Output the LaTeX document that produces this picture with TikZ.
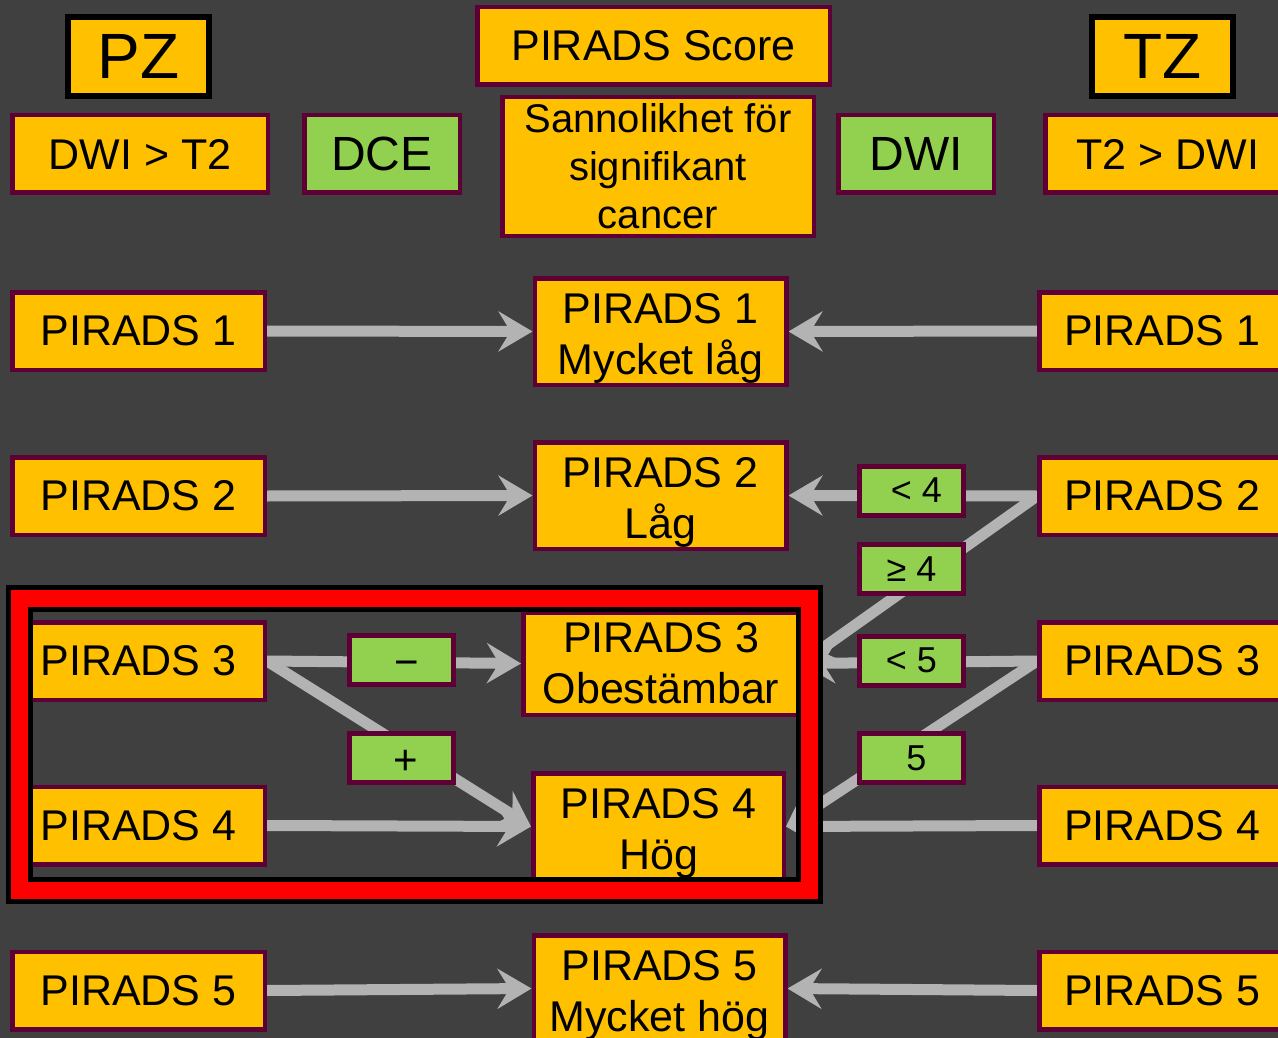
\documentclass[tikz,border=0pt]{standalone}
\usepackage{fontspec}
\setmainfont{Liberation Sans}
\usetikzlibrary{arrows.meta}
\definecolor{bgdark}{HTML}{404040}
\definecolor{boxorange}{HTML}{FFC000}
\definecolor{boxgreen}{HTML}{92D050}
\definecolor{rim}{HTML}{5E0036}
\definecolor{linkgray}{HTML}{B3B3B3}
\definecolor{framered}{HTML}{FF0000}
\pgfdeclarelayer{bg}
\pgfdeclarelayer{links}
\pgfdeclarelayer{front}
\pgfsetlayers{bg,links,main,front}
% taller first line: sets the two-line score text a little lower in its box
\newcommand{\lowfirst}{\rule{0pt}{43pt}}
\begin{document}
\begin{tikzpicture}[x=1pt,y=-1pt,
  box/.style={draw=rim, line width=4.5pt, fill=boxorange, inner sep=0pt, align=center, text=black, font=\fontsize{43}{51}\selectfont},
  zone/.style={draw=black, line width=6pt, fill=boxorange, inner sep=0pt, minimum width=141pt, minimum height=79pt, font=\fontsize{64}{70}\selectfont},
  modal/.style={box, fill=boxgreen, minimum width=155.5pt, minimum height=77.5pt, font=\fontsize{48}{52}\selectfont},
  cond/.style={draw=rim, line width=5pt, fill=boxgreen, inner sep=0pt, minimum width=104pt, minimum height=49pt, font=\fontsize{36}{40}\selectfont},
  sign/.style={cond, font=\fontsize{42}{44}\selectfont},
  rowbox/.style={box, minimum width=252.5pt, minimum height=77.5pt},
  tzbox/.style={box, minimum width=245.5pt, minimum height=77.5pt},
  scorebox/.style={box, minimum width=251.5pt, minimum height=106.5pt},
  link/.style={draw=linkgray, line width=11pt, -{Stealth[length=34pt,width=40pt,inset=12pt]}}
]
\useasboundingbox (0,0) rectangle (1278,1038);
\begin{pgfonlayer}{bg}
  \fill[bgdark] (0,0) rectangle (1278,1038);
\end{pgfonlayer}

% headers
\node[zone] (pz) at (138.5,56.5) {PZ};
\node[zone] (tz) at (1162.5,56.5) {TZ};
\node[box, minimum width=352.5pt, minimum height=77.5pt] (score) at (653.5,46) {PIRADS Score};
\node[box, minimum width=311.5pt, minimum height=138.5pt, font=\fontsize{40}{48}\selectfont] (prob) at (658,166.5) {Sannolikhet för\\signifikant\\cancer};
\node[box, minimum width=255.5pt, minimum height=77.5pt] (pzseq) at (140,154) {DWI > T2};
\node[modal] (dce) at (382,154) {DCE};
\node[modal] (dwi) at (916,154) {DWI};
\node[tzbox] (tzseq) at (1168,154) {T2 > DWI};

% peripheral zone scores
\node[rowbox] (l1) at (138.5,331) {PIRADS 1};
\node[rowbox] (l2) at (138.5,496) {PIRADS 2};
\node[rowbox] (l3) at (138.5,661) {PIRADS 3};
\node[rowbox] (l4) at (138.5,825.5) {PIRADS 4};
\node[rowbox] (l5) at (138.5,990.5) {PIRADS 5};

% transition zone scores
\node[tzbox] (r1) at (1162,331) {PIRADS 1};
\node[tzbox] (r2) at (1162,496) {PIRADS 2};
\node[tzbox] (r3) at (1162,661) {PIRADS 3};
\node[tzbox] (r4) at (1162,825.5) {PIRADS 4};
\node[tzbox] (r5) at (1162,990.5) {PIRADS 5};

% overall assessment
\node[scorebox] (c1) at (660.5,331.5) {\lowfirst PIRADS 1\\Mycket låg};
\node[scorebox] (c2) at (660.5,495.5) {\lowfirst PIRADS 2\\Låg};
\node[box, minimum width=275.5pt, minimum height=102.5pt] (c3) at (661,663.5) {PIRADS 3\\Obestämbar};
\node[box, minimum width=250.5pt, minimum height=106.5pt] (c4) at (658.5,826.5) {\lowfirst PIRADS 4\\Hög};
\node[scorebox] (c5) at (659.5,988.5) {\lowfirst PIRADS 5\\Mycket hög};

% connectors
\begin{pgfonlayer}{links}
  \draw[link] (l1.east) -- (c1.west);
  \draw[link] (l2.east) -- (c2.west);
  \draw[link] (l3.east) -- (c3.west);
  \draw[link] (l3.east) -- (c4.west);
  \draw[link] (l4.east) -- (c4.west);
  \draw[link] (l5.east) -- (c5.west);
  \draw[link] (r1.west) -- (c1.east);
  \draw[link] (r2.west) -- (c2.east);
  \draw[link] (r2.west) -- (c3.east);
  \draw[link] (r3.west) -- (c3.east);
  \draw[link] (r3.west) -- (c4.east);
  \draw[link] (r4.west) -- (c4.east);
  \draw[link] (r5.west) -- (c5.east);
\end{pgfonlayer}

% conditions on the connectors
\node[sign] (minus) at (401,660) {\hspace*{12pt}\raisebox{-16pt}[0pt][0pt]{−}};
\node[sign] (plus) at (401,758) {\hspace*{10pt}\raisebox{-16pt}[0pt][0pt]{+}};
\node[cond] (lt4) at (911.5,490.5) {\hspace*{10pt}< 4};
\node[cond] (ge4) at (911.5,569) {≥ 4};
\node[cond] (lt5) at (911.5,660.5) {< 5};
\node[cond] (eq5) at (911.5,758) {\hspace*{10pt}5};

% highlight frame around scores 3 and 4
\begin{pgfonlayer}{front}
  \draw[black, line width=27pt] (19.5,598.5) rectangle (809,890);
  \draw[framered, line width=17pt] (19.5,598.5) rectangle (809,890);
\end{pgfonlayer}
\end{tikzpicture}
\end{document}
